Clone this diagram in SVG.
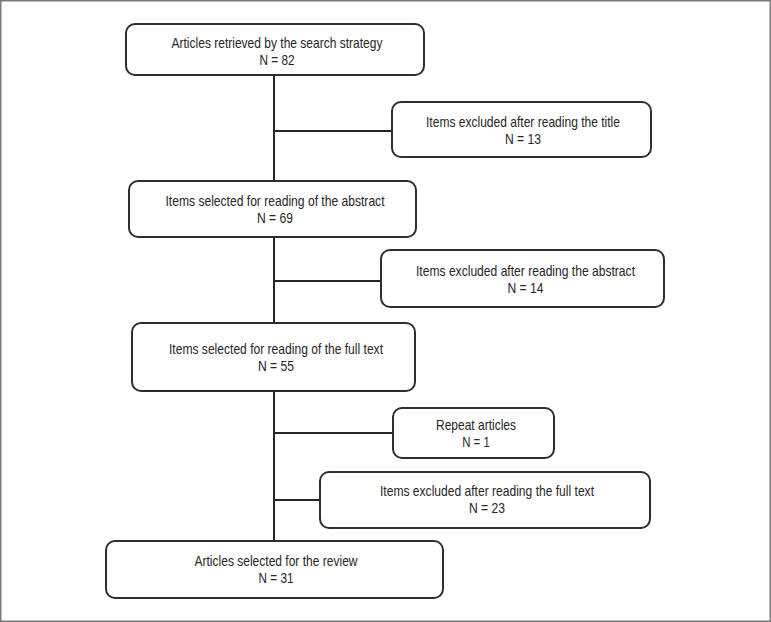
<svg xmlns="http://www.w3.org/2000/svg" width="771" height="622" viewBox="0 0 771 622">
<style>
.box{fill:#fff;stroke:#2e2e2e;stroke-width:2}
.t{font-family:"Liberation Sans",Arial,sans-serif;font-size:15px;fill:#262626;text-anchor:middle}
.c{stroke:#262626;stroke-width:2;fill:none}
</style>
<rect x="0.75" y="0.75" width="769.5" height="620.5" fill="#fff" stroke="#7a7a7a" stroke-width="1.5"/>
<g id="connectors">
<path class="c" d="M274 75V181M274 237V323M274 391V541M274 131H392M274 281H381M274 433H393M274 500H320"/>
</g>
<g id="n1">
<rect class="box" x="126" y="24" width="298" height="51" rx="9"/>
<text class="t" x="277" y="47.5" textLength="211" lengthAdjust="spacingAndGlyphs">Articles retrieved by the search strategy</text>
<text class="t" x="277" y="64.5" textLength="35" lengthAdjust="spacingAndGlyphs">N = 82</text>
</g>
<g id="n2">
<rect class="box" x="392" y="102" width="259" height="55" rx="9"/>
<text class="t" x="523" y="127" textLength="194" lengthAdjust="spacingAndGlyphs">Items excluded after reading the title</text>
<text class="t" x="523" y="144" textLength="36" lengthAdjust="spacingAndGlyphs">N = 13</text>
</g>
<g id="n3">
<rect class="box" x="129" y="181" width="287" height="56" rx="9"/>
<text class="t" x="275" y="206" textLength="219" lengthAdjust="spacingAndGlyphs">Items selected for reading of the abstract</text>
<text class="t" x="275" y="223" textLength="36" lengthAdjust="spacingAndGlyphs">N = 69</text>
</g>
<g id="n4">
<rect class="box" x="381" y="250" width="283" height="57" rx="9"/>
<text class="t" x="525.5" y="276" textLength="219" lengthAdjust="spacingAndGlyphs">Items excluded after reading the abstract</text>
<text class="t" x="525.5" y="293" textLength="36" lengthAdjust="spacingAndGlyphs">N = 14</text>
</g>
<g id="n5">
<rect class="box" x="132" y="323" width="283" height="68" rx="9"/>
<text class="t" x="276" y="354" textLength="214" lengthAdjust="spacingAndGlyphs">Items selected for reading of the full text</text>
<text class="t" x="276" y="371" textLength="36" lengthAdjust="spacingAndGlyphs">N = 55</text>
</g>
<g id="n6">
<rect class="box" x="393" y="408" width="161" height="50" rx="9"/>
<text class="t" x="476" y="429.5" textLength="80" lengthAdjust="spacingAndGlyphs">Repeat articles</text>
<text class="t" x="476" y="447" textLength="27.5" lengthAdjust="spacingAndGlyphs">N = 1</text>
</g>
<g id="n7">
<rect class="box" x="320" y="472" width="330" height="56" rx="9"/>
<text class="t" x="487" y="496" textLength="214" lengthAdjust="spacingAndGlyphs">Items excluded after reading the full text</text>
<text class="t" x="487" y="513" textLength="36" lengthAdjust="spacingAndGlyphs">N = 23</text>
</g>
<g id="n8">
<rect class="box" x="106" y="541" width="337" height="57" rx="9"/>
<text class="t" x="276" y="565.5" textLength="163" lengthAdjust="spacingAndGlyphs">Articles selected for the review</text>
<text class="t" x="276" y="583" textLength="35" lengthAdjust="spacingAndGlyphs">N = 31</text>
</g>
</svg>
